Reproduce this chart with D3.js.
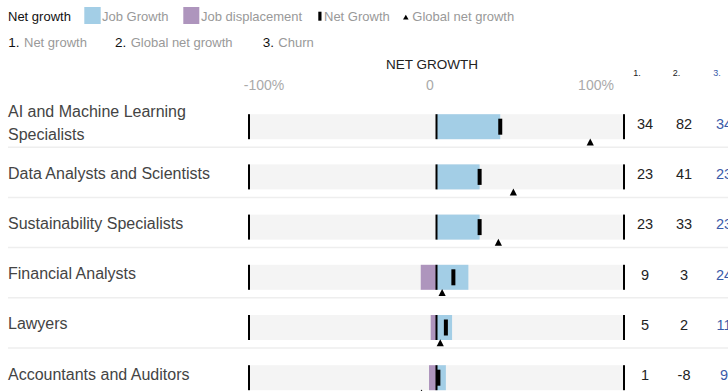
<!DOCTYPE html>
<html>
<head>
<meta charset="utf-8">
<script src="https://cdn.jsdelivr.net/npm/d3@7"></script>
<style>
  html, body { margin: 0; padding: 0; background: #fff; }
  svg { display: block; font-family: "Liberation Sans", Arial, Helvetica, sans-serif; }
</style>
</head>
<body>
<svg id="chart" width="728" height="391"></svg>
<script>
// ---- data ----
const categories = [
  "AI and Machine Learning Specialists",
  "Data Analysts and Scientists",
  "Sustainability Specialists",
  "Financial Analysts",
  "Lawyers",
  "Accountants and Auditors"
];
const jobGrowth       = [34, 23, 23, 17, 8.3, 5];
const jobDisplacement = [0, 0, 0, -8.4, -3.1, -4];
const netGrowth       = [34, 23, 23, 9, 5, 1];
const globalNetGrowth = [82, 41, 33, 3, 2, -8];
const churn           = [34, 23, 23, 24, 11, 9];
const axisTicks       = [-100, 0, 100];
const axisTickLabels  = ["-100%", "0", "100%"];
const columnHeaders   = ["1.", "2.", "3."];

// ---- styling ----
const BLUE = "#a3cee6", PURPLE = "#ae95bd", BG = "#f4f4f4";
const svg = d3.select("#chart");

const x = d3.scaleLinear().domain([-100, 100]).range([249, 624]);
const xLabel = d3.scaleLinear().domain([-100, 100]).range([264, 596]);
const y = d3.scaleBand().domain(categories).range([114.2, 390.2]).paddingInner(0.502).paddingOuter(0);
const bw = y.bandwidth();

// ---- legend row 1 ----
const lg = svg.append("g");
lg.append("text").attr("x", 8).attr("y", 20.7).attr("font-size", 13).attr("fill", "#111").text("Net growth");
lg.append("rect").attr("x", 84.3).attr("y", 7).attr("width", 16.4).attr("height", 17).attr("fill", BLUE);
lg.append("text").attr("x", 102).attr("y", 20.7).attr("font-size", 13).attr("fill", "#999").text("Job Growth");
lg.append("rect").attr("x", 183.3).attr("y", 7).attr("width", 16).attr("height", 17).attr("fill", PURPLE);
lg.append("text").attr("x", 201).attr("y", 20.7).attr("font-size", 13).attr("fill", "#999").text("Job displacement");
lg.append("rect").attr("x", 318.3).attr("y", 11.7).attr("width", 3.2).attr("height", 9).attr("fill", "#000");
lg.append("text").attr("x", 324).attr("y", 20.7).attr("font-size", 13).attr("fill", "#999").text("Net Growth");
lg.append("path").attr("d", "M405.8,14.8 L408.6,19.4 L403,19.4 Z").attr("fill", "#000");
lg.append("text").attr("x", 412.3).attr("y", 20.7).attr("font-size", 13).attr("fill", "#999").text("Global net growth");

// ---- legend row 2 ----
const l2 = [
  {n: "1.", t: "Net growth", xn: 8.3, xt: 24},
  {n: "2.", t: "Global net growth", xn: 115, xt: 130.7},
  {n: "3.", t: "Churn", xn: 262.7, xt: 278.3}
];
l2.forEach(d => {
  lg.append("text").attr("x", d.xn).attr("y", 46.7).attr("font-size", 13.5).attr("fill", "#111").text(d.n);
  lg.append("text").attr("x", d.xt).attr("y", 46.7).attr("font-size", 13).attr("fill", "#999").text(d.t);
});

// ---- title and axis labels ----
svg.append("text").attr("x", 432).attr("y", 69).attr("text-anchor", "middle")
  .attr("font-size", 13.5).attr("fill", "#222").text("NET GROWTH");
svg.append("g").selectAll("text").data(axisTicks).join("text")
  .attr("x", d => xLabel(d)).attr("y", 90).attr("text-anchor", "middle")
  .attr("font-size", 14).attr("fill", "#aaa")
  .text((d, i) => axisTickLabels[i]);

// column headers
const colX = [645, 684, 724];
const headX = [633.3, 672.7, 713.3];
svg.append("g").selectAll("text").data(columnHeaders).join("text")
  .attr("x", (d, i) => headX[i]).attr("y", 76).attr("font-size", 9)
  .attr("fill", (d, i) => i === 2 ? "#3a5aa8" : "#222").text(d => d);

// ---- rows ----
const rows = categories.map((c, i) => ({
  c, g: jobGrowth[i], d: jobDisplacement[i], n: netGrowth[i], gl: globalNetGrowth[i], ch: churn[i]
}));

const row = svg.append("g").selectAll("g").data(rows).join("g");

// separators
row.append("line")
  .attr("x1", 8).attr("x2", 728)
  .attr("y1", d => y(d.c) + bw + 8).attr("y2", d => y(d.c) + bw + 8)
  .attr("stroke", "#eee").attr("stroke-width", 1.5);

// background
row.append("rect").attr("x", x(-100)).attr("width", x(100) - x(-100))
  .attr("y", d => y(d.c)).attr("height", bw).attr("fill", BG);
// growth
row.append("rect").attr("x", x(0)).attr("width", d => x(d.g) - x(0))
  .attr("y", d => y(d.c)).attr("height", bw).attr("fill", BLUE);
// displacement
row.append("rect").attr("x", d => x(d.d)).attr("width", d => x(0) - x(d.d))
  .attr("y", d => y(d.c)).attr("height", bw).attr("fill", PURPLE);
// edge and zero lines
[-100, 0, 100].forEach(v => {
  row.append("rect").attr("x", x(v) - 1).attr("width", 2)
    .attr("y", d => y(d.c)).attr("height", bw).attr("fill", "#000");
});
// net growth marker
row.append("rect").attr("x", d => x(d.n) - 2).attr("width", 4)
  .attr("y", d => y(d.c) + bw / 2 - 8).attr("height", 16).attr("fill", "#000");
// global net growth triangle
row.append("path").attr("d", d => {
  const cx = x(d.gl), tip = y(d.c) + bw - 0.8;
  return `M${cx},${tip} L${cx + 3.6},${tip + 7} L${cx - 3.6},${tip + 7} Z`;
}).attr("fill", "#000");

// category labels with wrapping
row.append("text").attr("x", 8).attr("font-size", 16).attr("fill", "#444")
  .each(function(d) {
    const t = d3.select(this);
    const words = d.c.split(" ");
    const lines = [];
    let cur = [];
    const probe = t.append("tspan");
    words.forEach(w => {
      const test = cur.concat([w]).join(" ");
      probe.text(test);
      if (probe.node().getComputedTextLength() > 205 && cur.length) {
        lines.push(cur.join(" "));
        cur = [w];
      } else cur.push(w);
    });
    lines.push(cur.join(" "));
    probe.remove();
    const center = y(d.c) + bw / 2 + 1.8;
    const lh = 23.3;
    const first = center - (lines.length - 1) * lh / 2;
    lines.forEach((ln, k) => {
      t.append("tspan").attr("x", 8).attr("y", first + k * lh).text(ln);
    });
  });

// numbers
const numCols = [d => d.n, d => d.gl, d => d.ch];
numCols.forEach((f, i) => {
  row.append("text").attr("x", colX[i]).attr("y", d => y(d.c) + bw / 2 + 2.3)
    .attr("text-anchor", "middle").attr("font-size", 14.5)
    .attr("fill", i === 2 ? "#3a5aa8" : "#222").text(f);
});
</script>
</body>
</html>
